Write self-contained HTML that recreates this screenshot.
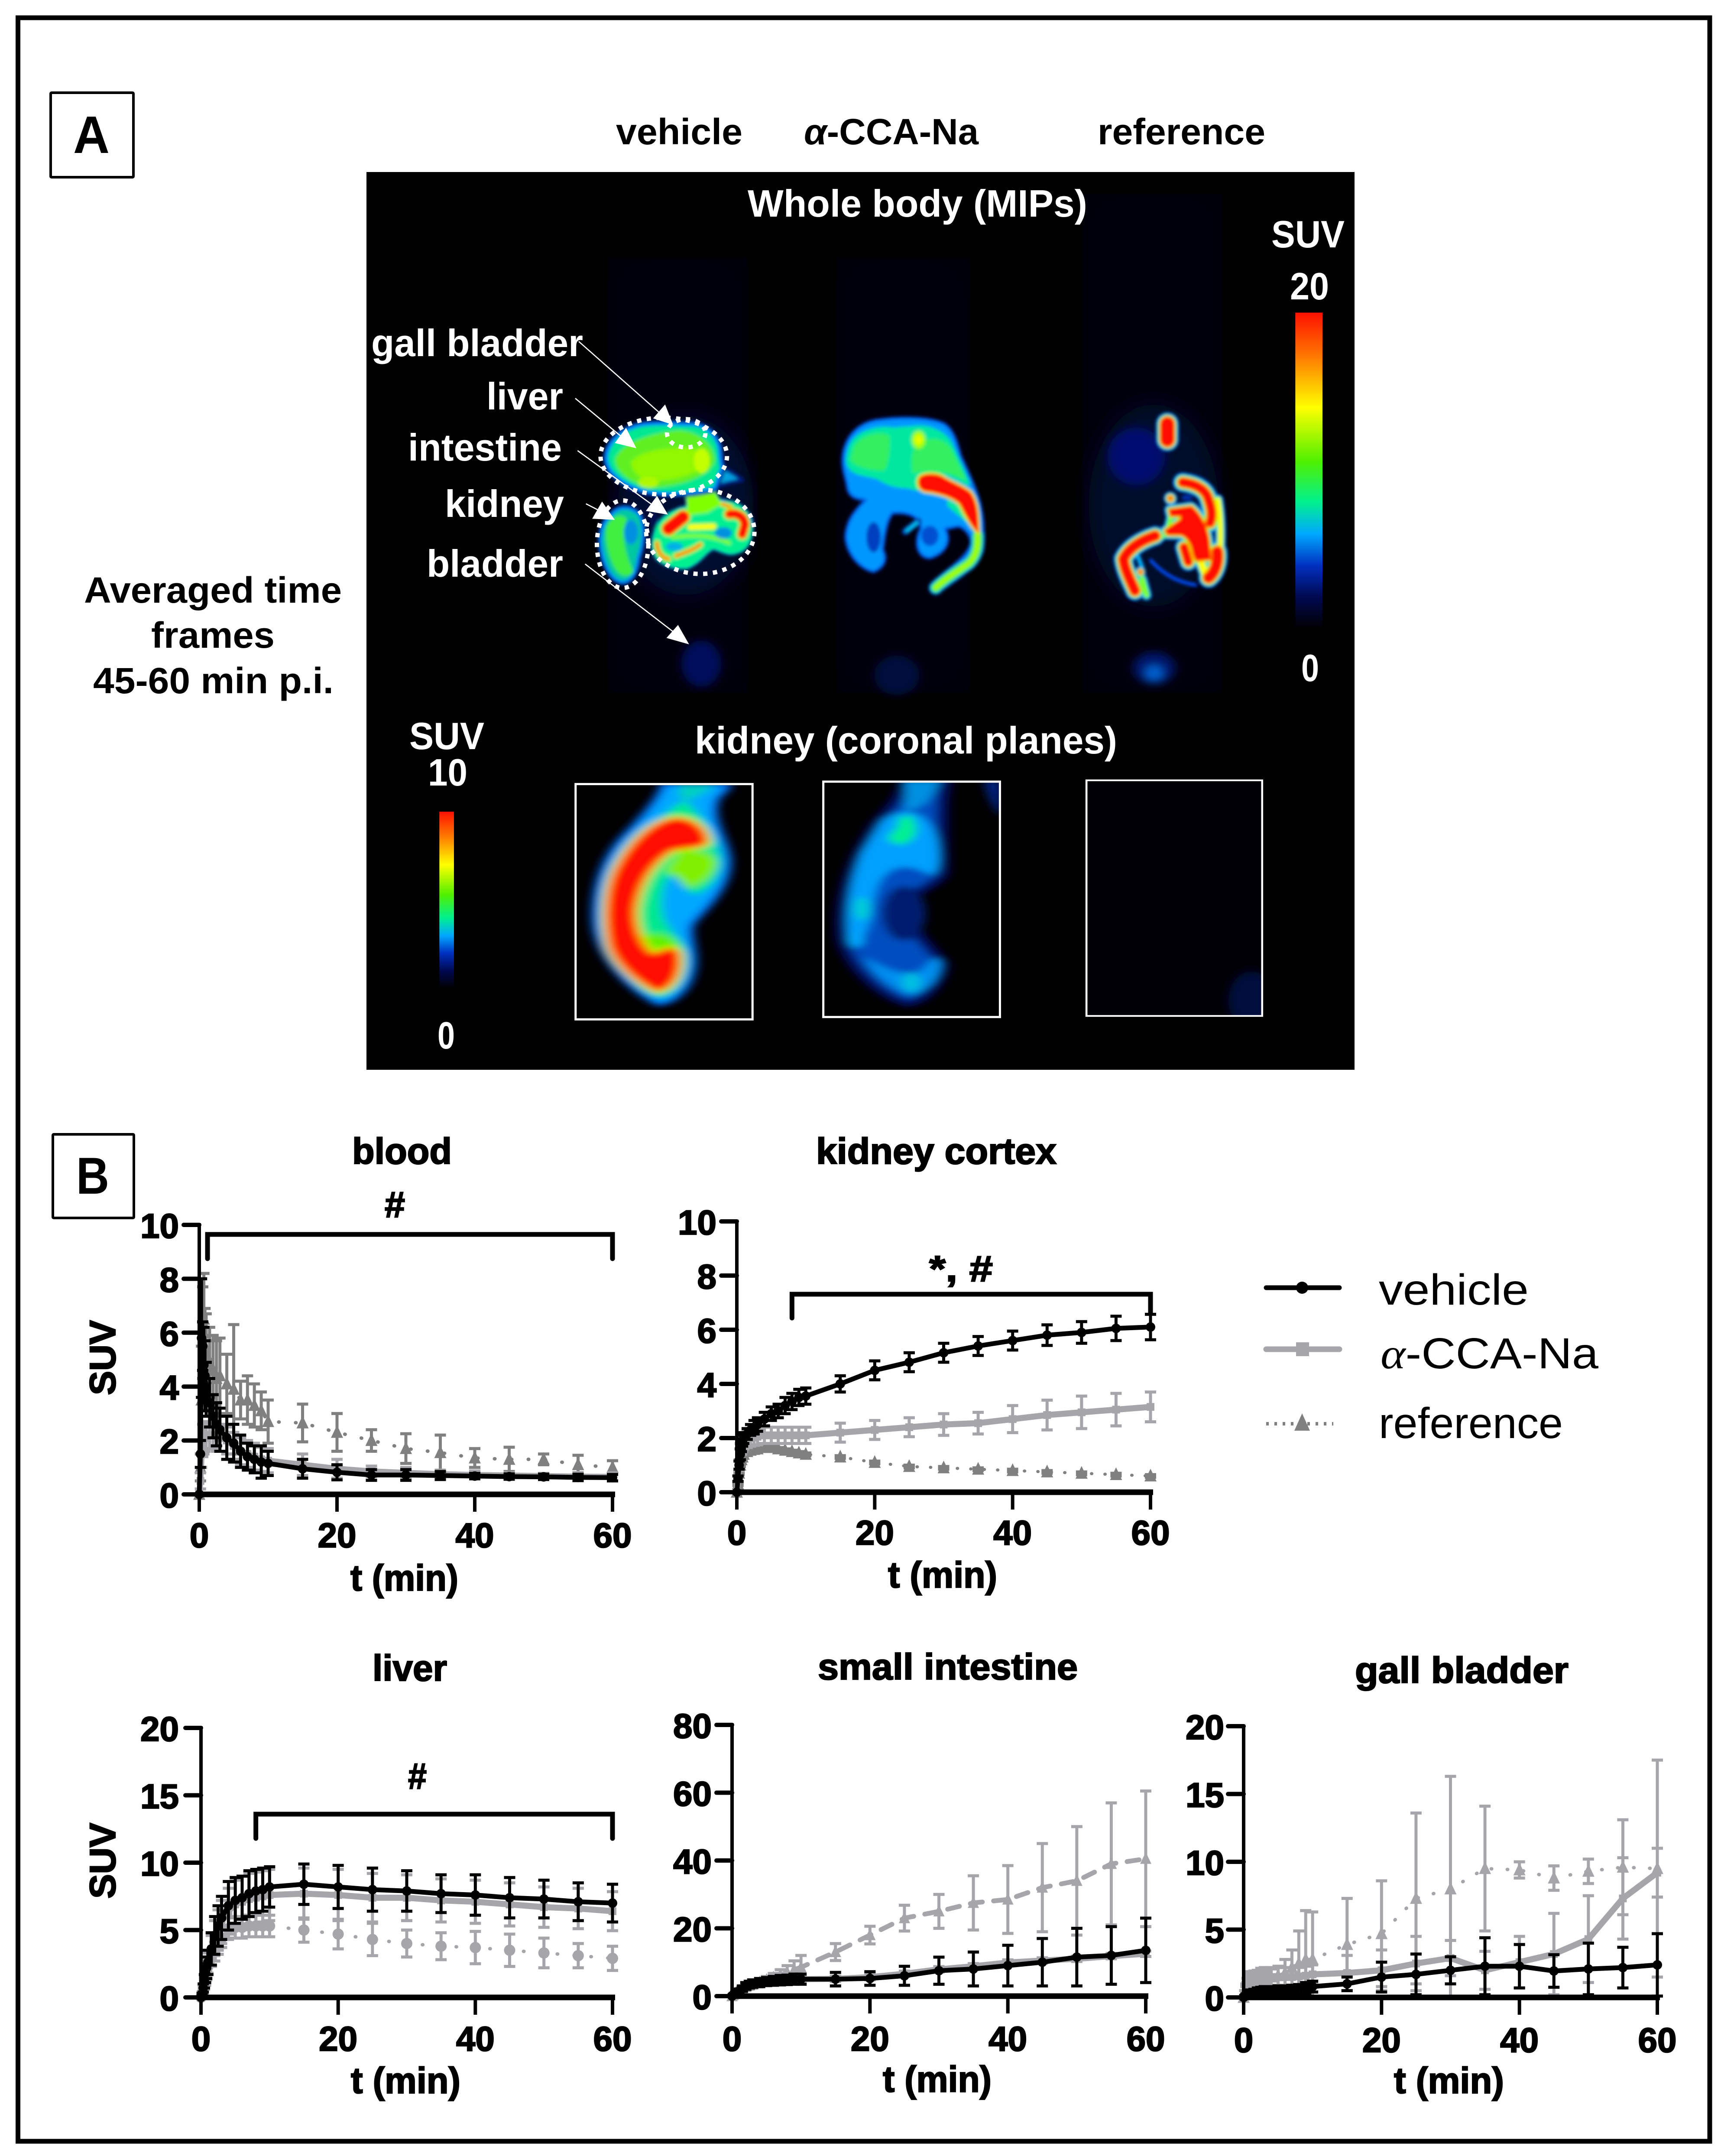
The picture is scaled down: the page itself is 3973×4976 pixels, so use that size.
<!DOCTYPE html>
<html lang="en">
<head>
<meta charset="utf-8">
<title>SUV imaging and time-activity curves</title>
<style>
html,body{margin:0;padding:0;background:#fff}
svg{display:block}
text{font-family:"Liberation Sans",sans-serif}
.b{font-weight:bold}
.heavy{stroke:#000;stroke-width:2.5px}
</style>
</head>
<body>
<svg id="fig" xmlns="http://www.w3.org/2000/svg" width="3973" height="4976" viewBox="0 0 3973 4976">
<defs>
<filter id="blur7" x="-30%" y="-30%" width="160%" height="160%"><feGaussianBlur stdDeviation="7"/></filter>
<filter id="blur9" x="-20%" y="-20%" width="140%" height="140%"><feGaussianBlur stdDeviation="12"/></filter>
<filter id="blur14" x="-20%" y="-20%" width="140%" height="140%"><feGaussianBlur stdDeviation="18"/></filter>
<filter id="blur30" x="-40%" y="-40%" width="180%" height="180%"><feGaussianBlur stdDeviation="30"/></filter>
<filter id="blur60" x="-50%" y="-50%" width="200%" height="200%"><feGaussianBlur stdDeviation="70"/></filter>
<linearGradient id="jet" x1="0" y1="0" x2="0" y2="1">
<stop offset="0" stop-color="#ff1000"/><stop offset=".14" stop-color="#ff7a00"/><stop offset=".3" stop-color="#ffff00"/>
<stop offset=".47" stop-color="#50f000"/><stop offset=".6" stop-color="#00f090"/><stop offset=".7" stop-color="#00a8ff"/>
<stop offset=".8" stop-color="#0030c0"/><stop offset=".9" stop-color="#000850"/><stop offset="1" stop-color="#000000"/>
</linearGradient>
<clipPath id="glowClip"><rect x="30" y="13" width="1490" height="1547"/></clipPath>
<clipPath id="box1Clip"><rect x="46" y="60" width="604" height="1455"/></clipPath>
<clipPath id="box2Clip"><rect x="900" y="45" width="603" height="1455"/></clipPath>
<clipPath id="box3Clip"><rect x="1116" y="1061" width="265" height="406"/></clipPath>
<clipPath id="vehicleClip"><rect x="-200" y="-500" width="1550" height="2500"/></clipPath>
</defs>

<rect width="3973" height="4976" fill="#fff"/>
<rect x="41.5" y="41" width="3905.5" height="4901" fill="none" stroke="#000" stroke-width="11"/>

<rect x="117" y="214" width="191" height="195" fill="#fff" stroke="#000" stroke-width="6" rx="2"/>
<text class="b" x="169" y="353" font-size="122" textLength="84" lengthAdjust="spacingAndGlyphs">A</text>
<rect x="122" y="2618" width="187" height="193" fill="#fff" stroke="#000" stroke-width="6" rx="2"/>
<text class="b" x="176" y="2755" font-size="120" textLength="76" lengthAdjust="spacingAndGlyphs">B</text>

<text class="b" x="1422" y="333" font-size="84" textLength="292" lengthAdjust="spacingAndGlyphs">vehicle</text>
<text class="b" x="1856" y="333" font-size="84" textLength="403" lengthAdjust="spacingAndGlyphs"><tspan font-style="italic">α</tspan>-CCA-Na</text>
<text class="b" x="2534" y="333" font-size="84" textLength="387" lengthAdjust="spacingAndGlyphs">reference</text>

<text class="b" x="194" y="1391" font-size="84" textLength="595" lengthAdjust="spacingAndGlyphs">Averaged time</text>
<text class="b" x="349" y="1495" font-size="84" textLength="285" lengthAdjust="spacingAndGlyphs">frames</text>
<text class="b" x="215" y="1600" font-size="84" textLength="555" lengthAdjust="spacingAndGlyphs">45-60 min p.i.</text>

<rect x="846" y="397" width="2281" height="2072" fill="#000"/>

<g transform="translate(800 380) scale(1.5306 1.3393)" clip-path="url(#glowClip)">
  <g filter="url(#blur30)">
    <rect x="395" y="160" width="210" height="750" fill="#00020e"/>
    <rect x="740" y="160" width="200" height="750" fill="#00020e"/>
    <rect x="1110" y="50" width="210" height="860" fill="#00020f"/>
  </g>
  <g filter="url(#blur7)">
    <ellipse cx="535" cy="860" rx="30" ry="40" fill="#00105c"/>
    <ellipse cx="830" cy="880" rx="34" ry="34" fill="#000a3e"/>
    <ellipse cx="1218" cy="868" rx="32" ry="28" fill="#00146c"/>
    <ellipse cx="1218" cy="876" rx="13" ry="13" fill="#0060d0"/>
  </g>
</g>

<g transform="translate(1300 900) scale(.33333)" clip-path="url(#vehicleClip)">
  <ellipse cx="850" cy="800" rx="470" ry="620" fill="#000830" filter="url(#blur60)"/>
  <g id="petVehicle" filter="url(#blur9)"></g>
</g>
<g id="petAlpha" transform="translate(1880 920) scale(.33333)" filter="url(#blur9)"></g>
<g transform="translate(2450 900) scale(.33333)">
  <ellipse cx="640" cy="800" rx="450" ry="700" fill="#00072c" filter="url(#blur60)"/>
  <ellipse cx="520" cy="460" rx="200" ry="200" fill="#001070" filter="url(#blur30)"/>
  <g id="petRef" filter="url(#blur9)"></g>
</g>

<g transform="translate(1300 1790) scale(.6696 .37)">
  <g clip-path="url(#box1Clip)"><g id="petLower1" filter="url(#blur14)"></g></g>
  <g clip-path="url(#box2Clip)"><g id="petLower2" filter="url(#blur14)"></g></g>
  <rect x="43" y="53" width="610" height="1468" fill="none" stroke="#fff" stroke-width="5" vector-effect="non-scaling-stroke"/>
  <rect x="897" y="38" width="609" height="1468" fill="none" stroke="#fff" stroke-width="5" vector-effect="non-scaling-stroke"/>
</g>

<g id="pet" transform="translate(800 380) scale(1.5306 1.3393)">
  <g clip-path="url(#box3Clip)">
    <rect x="1116" y="1061" width="265" height="406" fill="#000006"/>
    <ellipse cx="1365" cy="1440" rx="35" ry="50" fill="#000a3c" filter="url(#blur7)"/>
  </g>
  <rect x="1116" y="1061" width="265" height="406" fill="none" stroke="#fff" stroke-width="3"/>
  <rect x="1431" y="255" width="41" height="545" fill="url(#jet)"/>
  <rect x="140" y="1115" width="22" height="305" fill="url(#jet)"/>
</g>

<g transform="translate(1300 900) scale(.33333)">
  <g fill="none" stroke="#fff" stroke-width="30" stroke-dasharray="30 38">
    <ellipse cx="697" cy="458" rx="438" ry="266"/>
    <ellipse cx="852" cy="300" rx="133" ry="98"/>
    <ellipse cx="950" cy="982" rx="375" ry="292"/>
    <ellipse cx="412" cy="1068" rx="178" ry="303"/>
  </g>
  <g stroke="#fff" stroke-width="8" fill="#fff">
    <line x1="108" y1="-336" x2="670" y2="160"/><polygon points="705,108 630,195 755,235"/>
    <line x1="84" y1="58" x2="400" y2="320"/><polygon points="435,270 365,365 500,398"/>
    <line x1="100" y1="420" x2="610" y2="790"/><polygon points="650,740 580,835 718,858"/>
    <line x1="158" y1="788" x2="240" y2="830"/><polygon points="270,780 208,888 350,895"/>
    <line x1="152" y1="1205" x2="770" y2="1680"/><polygon points="864,1755 723,1715 795,1634"/>
  </g>
</g>

<g fill="#fff" class="b">
  <text class="b" x="1726" y="500" font-size="88" textLength="784" lengthAdjust="spacingAndGlyphs">Whole body (MIPs)</text>
  <text class="b" x="2935" y="571" font-size="88" textLength="169" lengthAdjust="spacingAndGlyphs">SUV</text>
  <text class="b" x="2978" y="691" font-size="88" textLength="90" lengthAdjust="spacingAndGlyphs">20</text>
  <text class="b" x="3004" y="1572" font-size="88" textLength="41" lengthAdjust="spacingAndGlyphs">0</text>
  <text class="b" x="857" y="822" font-size="88" textLength="489" lengthAdjust="spacingAndGlyphs">gall bladder</text>
  <text class="b" x="1123" y="945" font-size="88" textLength="177" lengthAdjust="spacingAndGlyphs">liver</text>
  <text class="b" x="942" y="1063" font-size="88" textLength="355" lengthAdjust="spacingAndGlyphs">intestine</text>
  <text class="b" x="1027" y="1193" font-size="88" textLength="275" lengthAdjust="spacingAndGlyphs">kidney</text>
  <text class="b" x="985" y="1331" font-size="88" textLength="315" lengthAdjust="spacingAndGlyphs">bladder</text>
  <text class="b" x="945" y="1729" font-size="88" textLength="173" lengthAdjust="spacingAndGlyphs">SUV</text>
  <text class="b" x="988" y="1813" font-size="88" textLength="91" lengthAdjust="spacingAndGlyphs">10</text>
  <text class="b" x="1010" y="2420" font-size="88" textLength="40" lengthAdjust="spacingAndGlyphs">0</text>
  <text class="b" x="1604" y="1739" font-size="88" textLength="975" lengthAdjust="spacingAndGlyphs">kidney (coronal planes)</text>
</g>

<g id="charts"></g>

<g>
  <line x1="2923" y1="2972" x2="3092" y2="2972" stroke="#000" stroke-width="11" stroke-linecap="round"/>
  <circle cx="3006" cy="2972" r="14" fill="#000"/>
  <text x="3183" y="3011" font-size="100" textLength="346" lengthAdjust="spacingAndGlyphs">vehicle</text>
  <line x1="2923" y1="3114" x2="3092" y2="3114" stroke="#a6a6aa" stroke-width="13" stroke-linecap="round"/>
  <rect x="2992" y="3098" width="30" height="32" fill="#a6a6aa"/>
  <text x="3187" y="3158" font-size="100" textLength="503" lengthAdjust="spacingAndGlyphs"><tspan font-style="italic" font-family="Liberation Serif">α</tspan>-CCA-Na</text>
  <line x1="2923" y1="3286" x2="3078" y2="3286" stroke="#808080" stroke-width="8" stroke-dasharray="6 13"/>
  <polygon points="3006,3262 3024,3302 2988,3302" fill="#808080"/>
  <text x="3183" y="3319" font-size="100" textLength="425" lengthAdjust="spacingAndGlyphs">reference</text>
</g>

<script>
// ---------- chart data ----------
const timePoints = [0,.17,.33,.5,.67,.83,1,1.5,2,2.5,3,4,5,6,7,8,9,10,15,20,25,30,35,40,45,50,55,60];
const xTickLabels = [0,20,40,60];
const yTicksTen = [0,2,4,6,8,10];
const yTicksTwenty = [0,5,10,15,20];
const yTicksEighty = [0,20,40,60,80];

const bloodVehicle = [0,1.5,5.8,5.5,4.8,4.4,3.9,3.4,2.9,2.6,2.4,2.1,1.9,1.6,1.4,1.3,1.2,1.15,.95,.82,.72,.72,.7,.68,.66,.65,.63,.62];
const bloodVehicleErr = [0,.5,2.2,.9,1.4,1.3,1,.9,.8,.8,.8,.8,.7,.6,.5,.5,.6,.45,.35,.28,.2,.2,.15,.1,.1,.1,.12,.12];
const bloodAlpha = [0,.5,1.5,2,2.1,2.1,2.2,2.2,2.2,2.1,2.1,2,1.8,1.6,1.5,1.4,1.3,1.25,1.1,.95,.85,.8,.75,.72,.7,.68,.66,.65];
const bloodAlphaErr = [0,.3,.5,.6,.6,.5,.5,.5,.5,.5,.5,.5,.5,.5,.5,.5,.45,.45,.4,.35,.2,.2,.15,.15,.1,.1,.15,.15];
const bloodRef = [0,1,3.5,6,6.5,5.5,5.2,4.9,4.6,4.3,4.4,4.1,3.9,3.5,3.5,3.3,3.1,2.7,2.65,2.3,2,1.7,1.55,1.35,1.3,1.3,1.1,1];
const bloodRefErr = [0,.5,2,1.7,1.7,1.4,1.5,1.3,1.3,1.4,1.4,1.1,2.4,.7,.9,.8,.7,.8,.7,.7,.4,.55,.65,.35,.45,.2,.35,.25];

const kidneyVehicle = [0,.5,1,1.4,1.7,1.9,2,2.15,2.3,2.4,2.5,2.7,2.9,3,3.2,3.35,3.5,3.55,4,4.5,4.8,5.15,5.4,5.6,5.8,5.9,6.05,6.1];
const kidneyVehicleErr = [0,.1,.15,.2,.2,.2,.2,.2,.2,.25,.25,.25,.25,.25,.3,.3,.3,.3,.3,.35,.35,.35,.35,.35,.38,.4,.45,.47];
const kidneyAlpha = [0,.5,1,1.5,1.7,1.8,1.9,1.95,2,2.03,2.05,2.1,2.1,2.1,2.1,2.1,2.1,2.1,2.2,2.3,2.4,2.5,2.55,2.7,2.85,2.95,3.05,3.15];
const kidneyAlphaErr = [0,.1,.2,.3,.3,.3,.3,.3,.3,.3,.3,.3,.3,.3,.3,.3,.3,.3,.35,.35,.35,.4,.4,.5,.55,.6,.6,.55];
const kidneyRef = [0,.3,.7,1,1.2,1.3,1.4,1.5,1.55,1.58,1.6,1.65,1.65,1.6,1.55,1.5,1.45,1.4,1.3,1.1,.95,.9,.85,.8,.75,.7,.65,.6];
const kidneyRefErr = [0,.05,.05,.05,.05,.05,.05,.05,.05,.05,.05,.05,.05,.05,.05,.05,.05,.05,.05,.05,.05,.05,.05,.05,.05,.05,.05,.05];

const liverVehicle = [0,.2,.7,1.2,1.8,2.2,2.6,3.6,4.6,5.3,5.9,6.8,7.2,7.4,7.7,7.9,8,8.2,8.4,8.2,8,7.9,7.7,7.6,7.4,7.3,7.1,7];
const liverVehicleErr = [0,.1,.3,.5,.7,.8,.9,1.2,1.4,1.5,1.6,1.8,1.7,1.6,1.7,1.6,1.6,1.5,1.5,1.6,1.6,1.5,1.4,1.5,1.5,1.4,1.4,1.4];
const liverAlpha = [0,.2,.6,1,1.5,2,2.5,3.5,4.4,5,5.6,6.4,6.9,7.1,7.3,7.4,7.5,7.6,7.7,7.6,7.4,7.4,7.2,7.1,6.9,6.7,6.6,6.4];
const liverAlphaErr = [0,.1,.3,.4,.6,.7,.8,1.1,1.3,1.5,1.6,1.7,1.8,1.9,1.9,1.9,1.9,1.9,1.9,1.9,1.8,1.7,1.6,1.6,1.6,1.5,1.5,1.45];
const liverRef = [0,.3,.8,1.2,1.6,2,2.3,2.9,3.4,3.9,4.4,5.1,5.2,5.2,5.3,5.3,5.3,5.3,5,4.7,4.3,4,3.8,3.7,3.5,3.3,3.1,2.9];
const liverRefErr = [0,.1,.2,.3,.4,.4,.5,.6,.7,.7,.7,.8,.8,.8,.8,.8,.8,.8,.9,1.1,1.2,1,1,1.2,1.2,1.1,.9,.9];

const intestineVehicle = [0,.3,.5,.7,1,1.2,1.5,2.2,3,3.4,3.7,4,4.3,4.5,4.7,4.8,5,5,5,5.2,6,7.5,8,9,10,11.5,12,13.5];
const intestineVehicleErr = [0,.2,.3,.4,.5,.5,.6,.8,1,1,1.1,1.2,1.2,1.3,1.4,1.4,1.5,1.5,2,2,2.8,4,5,6,7,8.5,8.5,9.5];
const intestineAlpha = [0,.2,.4,.6,.8,1,1.2,1.8,2.4,2.7,3,3.4,3.8,4.2,4.5,4.7,4.8,5,5.1,5.6,6.6,7.9,8.8,9.9,10.5,11,11.8,12.5];
const intestineAlphaErr = [0,.1,.2,.2,.3,.3,.3,.4,.5,.5,.5,.6,.6,.6,.6,.7,.7,.7,.8,.8,.8,.8,.8,.8,.8,.8,.8,.8];
const intestineRef = [0,.3,.6,.9,1.2,1.4,1.7,2.2,2.7,3.1,3.4,4.1,4.8,5.5,6.2,7,7.8,8.5,13,18,23,25,27.5,28.5,32,34,39,40.5];
const intestineRefErr = [0,.1,.2,.3,.3,.4,.4,.5,.6,.7,.7,.9,1,1.2,1.6,2,2.6,3.5,2.5,2.6,3.8,5,8,10,13,16,18,20];

const gallVehicle = [0,.1,.15,.2,.25,.3,.35,.4,.45,.5,.5,.5,.55,.55,.55,.6,.7,.8,1,1.5,1.7,2,2.3,2.3,1.95,2.1,2.2,2.4];
const gallVehicleErr = [0,.05,.1,.1,.15,.15,.2,.2,.25,.25,.3,.3,.3,.3,.35,.35,.4,.4,.5,1.1,1.5,1,2.1,1.6,1.2,1.9,1.5,2.3];
const gallAlpha = [0,.3,.6,.9,1.1,1.2,1.3,1.35,1.4,1.45,1.5,1.5,1.5,1.5,1.5,1.55,1.6,1.7,1.8,2,2.5,2.9,2,2.6,3.2,4.3,7.3,9.2];
const gallAlphaErr = [0,.2,.4,.5,.5,.5,.6,.6,.6,.7,.7,.7,.7,.7,.7,.7,.7,.7,1.3,1.5,2,1.3,1.4,1.9,3,3.2,3,1.8];
const gallRef = [0,.3,.5,.7,.8,.9,1,1.1,1.2,1.3,1.4,1.5,1.6,1.8,2.2,2.5,2.8,2.8,3.9,4.7,7.3,8,9.5,9.4,8.8,9.3,9.6,9.5];
const gallRefErr = [0,.2,.3,.4,.4,.4,.4,.4,.4,.5,.5,.6,.7,1,1.3,2.4,3.6,3.5,3.4,3.9,6.3,8.3,4.6,.6,.9,.9,3.5,8];

// ---------- drawing helpers ----------
const NS = 'http://www.w3.org/2000/svg';
function mk(parent, tag, attrs, txt){
  const el = document.createElementNS(NS, tag);
  for (const k in attrs) el.setAttribute(k, attrs[k]);
  if (txt !== undefined) el.textContent = txt;
  parent.appendChild(el);
  return el;
}

function drawSeries(g, s, sx, sy){
  const group = mk(g, 'g', {});
  
  
  const path = timePoints.map((t, i) => (i ? 'L' : 'M') + sx(t) + ' ' + sy(s.mean[i])).join(' ');
  const errW = s.errW || 7;
  timePoints.forEach((t, i) => {
    if (!s.err[i]) return;
    const up = sy(s.mean[i] + s.err[i]);
    const dn = sy(Math.max(0, s.mean[i] - s.err[i]));
    const eb = mk(group, 'path', {d:'M' + sx(t) + ' ' + up + 'V' + dn + 'M' + (sx(t) - 13) + ' ' + up + 'h26M' + (sx(t) - 13) + ' ' + dn + 'h26', fill:'none', stroke:s.color, 'stroke-width':errW});
    
    
  });
  const attrs = {d:path, fill:'none', stroke:s.color, 'stroke-width':s.width, 'stroke-linejoin':'round'};
  if (s.dash) { attrs['stroke-dasharray'] = s.dash; attrs['stroke-linecap'] = 'round'; }
  const ln = mk(group, 'path', attrs);
  
  
  timePoints.forEach((t, i) => {
    const x = sx(t), y = sy(s.mean[i]);
    let m;
    if (s.marker === 'circle') m = mk(group, 'circle', {cx:x, cy:y, r:s.size, fill:s.color});
    else if (s.marker === 'square') m = mk(group, 'rect', {x:x - s.size, y:y - s.size, width:2 * s.size, height:2 * s.size, fill:s.color});
    else m = mk(group, 'polygon', {points:x + ',' + (y - s.size * 1.2) + ' ' + (x + s.size) + ',' + (y + s.size * .9) + ' ' + (x - s.size) + ',' + (y + s.size * .9), fill:s.color});
    
    
  });
}

function drawChart(c){
  const root = document.getElementById('charts');
  const g = mk(root, 'g', {});
  
  
  const sx = t => c.x0 + t / 60 * (c.x60 - c.x0);
  const sy = v => c.y0 - v / c.yMax * (c.y0 - c.yTop);
  c.series.forEach(s => drawSeries(g, s, sx, sy));

  const yAxis = mk(g, 'line', {x1:c.x0, x2:c.x0, y1:c.yTop - 4, y2:c.y0 + 40, stroke:'#000', 'stroke-width':8});
  
  
  const xAxis = mk(g, 'line', {x1:c.x0, x2:c.x60 + 6, y1:c.y0, y2:c.y0, stroke:'#000', 'stroke-width':13});
  
  

  c.yTicks.forEach(v => {
    const tick = mk(g, 'line', {x1:c.x0 - 36, x2:c.x0, y1:sy(v), y2:sy(v), stroke:'#000', 'stroke-width':10, 'stroke-linecap':'round'});
    
    
    const lab = mk(g, 'text', {x:c.yLabelRight, y:sy(v) + 30, 'font-size':80, 'font-weight':'bold', 'text-anchor':'end', class:'heavy'}, String(v));
    
    
  });
  xTickLabels.forEach(v => {
    const tick = mk(g, 'line', {x1:sx(v), x2:sx(v), y1:c.y0, y2:c.y0 + 40, stroke:'#000', 'stroke-width':8});
    
    
    const lab = mk(g, 'text', {x:sx(v), y:c.xLabelY, 'font-size':80, 'font-weight':'bold', 'text-anchor':'middle', class:'heavy'}, String(v));
    
    
  });

  const title = mk(g, 'text', {x:c.title[1], y:c.title[3], 'font-size':84, 'font-weight':'bold', class:'heavy', textLength:c.title[2] - c.title[1], lengthAdjust:'spacingAndGlyphs'}, c.title[0]);
  
  
  const xt = mk(g, 'text', {x:c.xTitle[0], y:c.xTitle[2], 'font-size':84, 'font-weight':'bold', class:'heavy', textLength:c.xTitle[1] - c.xTitle[0], lengthAdjust:'spacingAndGlyphs'}, 't (min)');
  
  
  if (c.suv) {
    const yt = mk(g, 'text', {transform:'translate(' + c.suv[0] + ' ' + c.suv[2] + ') rotate(-90)', 'font-size':84, 'font-weight':'bold', class:'heavy', textLength:c.suv[2] - c.suv[1], lengthAdjust:'spacingAndGlyphs'}, 'SUV');
    
    
  }
  if (c.bracket) {
    const b = c.bracket;
    const br = mk(g, 'path', {d:'M' + sx(b.from) + ' ' + b.drop1 + 'V' + b.y + 'H' + sx(b.to) + 'V' + b.drop2, fill:'none', stroke:'#000', 'stroke-width':11, 'stroke-linecap':'round'});
    
    
    const st = mk(g, 'text', {x:b.tx[0], y:b.ty, 'font-size':84, 'font-weight':'bold', class:'heavy', textLength:b.tx[1] - b.tx[0], lengthAdjust:'spacingAndGlyphs'}, b.text);
    
    
  }
}

const BLACK = '#000', GREY = '#a6a6aa', DARK = '#808080';
function trio(name, veh, vehE, alp, alpE, ref, refE, refStyle){
  return [
    Object.assign({name:name + '-reference', mean:ref, err:refE}, refStyle),
    {name:name + '-alpha-cca-na', mean:alp, err:alpE, color:GREY, marker:'square', size:9, width:14},
    {name:name + '-vehicle', mean:veh, err:vehE, color:BLACK, marker:'circle', size:11, width:11}
  ];
}

drawChart({name:'blood', x0:460, x60:1414, y0:3449, yTop:2827, yMax:10, yTicks:yTicksTen, yLabelRight:413, xLabelY:3571,
  title:['blood', 813, 1043, 2686], xTitle:[809, 1058, 3671], suv:[266, 3047, 3220],
  bracket:{from:1.2, to:60, y:2849, drop1:2905, drop2:2905, text:'#', tx:[888, 935], ty:2809},
  series:trio('blood', bloodVehicle, bloodVehicleErr, bloodAlpha, bloodAlphaErr, bloodRef, bloodRefErr, {color:DARK, marker:'triangle', size:14, width:8, dash:'1 38'})});

drawChart({name:'kidney-cortex', x0:1701, x60:2656, y0:3444, yTop:2819, yMax:10, yTicks:yTicksTen, yLabelRight:1654, xLabelY:3565,
  title:['kidney cortex', 1884, 2439, 2686], xTitle:[2050, 2302, 3664],
  bracket:{from:8, to:60, y:2987, drop1:3042, drop2:3033, text:'*, #', tx:[2145, 2292], ty:2957},
  series:trio('kidney', kidneyVehicle, kidneyVehicleErr, kidneyAlpha, kidneyAlphaErr, kidneyRef, kidneyRefErr, {color:DARK, marker:'triangle', size:14, width:7, dash:'1 30'})});

drawChart({name:'liver', x0:464, x60:1414, y0:4610, yTop:3988, yMax:20, yTicks:yTicksTwenty, yLabelRight:413, xLabelY:4733,
  title:['liver', 860, 1032, 3879], xTitle:[810, 1063, 4831], suv:[266, 4207, 4382],
  bracket:{from:8, to:60, y:4187, drop1:4243, drop2:4243, text:'#', tx:[942, 985], ty:4128},
  series:trio('liver', liverVehicle, liverVehicleErr, liverAlpha, liverAlphaErr, liverRef, liverRefErr, {color:GREY, marker:'circle', size:13, width:8, dash:'1 38'})});

drawChart({name:'small-intestine', x0:1690, x60:2645, y0:4607, yTop:3981, yMax:80, yTicks:yTicksEighty, yLabelRight:1643, xLabelY:4733,
  title:['small intestine', 1888, 2488, 3876], xTitle:[2038, 2289, 4828],
  series:trio('intestine', intestineVehicle, intestineVehicleErr, intestineAlpha, intestineAlphaErr, intestineRef, intestineRefErr, {color:GREY, marker:'triangle', size:13, width:11, dash:'28 26'})});

drawChart({name:'gall-bladder', x0:2871, x60:3826, y0:4610, yTop:3984, yMax:20, yTicks:yTicksTwenty, yLabelRight:2826, xLabelY:4736,
  title:['gall bladder', 3128, 3621, 3884], xTitle:[3218, 3472, 4831],
  series:trio('gall', gallVehicle, gallVehicleErr, gallAlpha, gallAlphaErr, gallRef, gallRefErr, {color:GREY, marker:'triangle', size:14, width:8, dash:'1 36'})});

// ---------- PET image shapes (iso-contour bands, blurred) ----------
const HOT = [['#00106a',72],['#0050ff',56],['#00c0ff',44],['#00f090',33],['#80ff00',22],['#ffff00',14],['#ff8000',7],['#ff1000',0]];

// draws every shape's level together so halos merge like real iso-contours
function bandSet(parent, name, shapes){
  HOT.forEach(([col, extra], lvl) => {
    shapes.forEach(s => {
      const top = s.levels || 8;
      if (lvl >= top) return;
      const closed = /Z\s*$/.test(s.d);
      const w = s.core + (extra - HOT[top - 1][1]) * s.k;
      const p = mk(parent, 'path', {d:s.d, fill:closed ? col : 'none', stroke:col, 'stroke-width':w, 'stroke-linecap':'round', 'stroke-linejoin':'round'});
      
      
    });
  });
}
// a single filled contour, optionally outlined
function fillShape(parent, name, d, fill, stroke, width){
  const p = mk(parent, 'path', {d:d, fill:fill, stroke:stroke || 'none', 'stroke-width':width || 0, 'stroke-linejoin':'round', 'stroke-linecap':'round'});
  
  
}
function spot(parent, name, cx, cy, rx, ry, fill){
  const e = mk(parent, 'ellipse', {cx:cx, cy:cy, rx:rx, ry:ry, fill:fill});
  
  
}

// --- vehicle MIP ---
const pv = document.getElementById('petVehicle');
const liverOutline = 'M300 470C300 380 400 260 560 240C700 225 800 240 900 240C1000 250 1060 320 1080 400C1090 480 1090 520 1100 530C1080 600 1060 650 1050 680C900 720 700 730 560 700C430 660 300 580 300 470Z';
const kidneyOutline = 'M330 870C380 800 470 800 530 870C560 950 560 1050 520 1160C510 1260 470 1330 410 1330C330 1320 270 1200 260 1050C260 960 290 900 330 870Z';
const intestineOutline = 'M640 960C700 820 850 800 1050 780C1200 740 1300 820 1310 960C1310 1040 1280 1110 1200 1130C1150 1150 1100 1120 1040 1100C980 1130 960 1190 860 1235C760 1240 680 1210 640 1160C610 1100 610 1040 640 960Z';
fillShape(pv, 'vehicle-liver-tail', 'M1090 530C1150 560 1220 600 1240 625C1170 640 1100 650 1050 680Z', '#00a0e0', '#001a80', 26);
bandSet(pv, 'vehicle-intestine', [
  {d:intestineOutline, core:0, k:.45, levels:4},
  {d:'M850 700L1050 700L1100 790L1000 850L860 870Z', core:0, k:.3, levels:5},
  {d:'M880 950L1040 945', core:36, k:1, levels:6},
  {d:'M730 960L830 880', core:85, k:1},
  {d:'M1150 860C1200 850 1250 870 1260 930L1240 1000', core:55, k:1},
  {d:'M1100 790L1160 810', core:20, k:1, levels:7},
  {d:'M650 1060C650 1110 680 1165 730 1170', core:24, k:1, levels:7},
  {d:'M780 1150C830 1130 900 1110 950 1070', core:24, k:1, levels:7},
  {d:'M760 1020C860 1010 1000 990 1150 1060', core:24, k:1, levels:5}
]);
spot(pv, 'vehicle-intestine-cold-1', 1110, 990, 60, 40, '#0090e0');
spot(pv, 'vehicle-intestine-cold-2', 770, 1085, 60, 30, '#00b0e8');
spot(pv, 'vehicle-intestine-notch', 630, 905, 22, 60, '#000a50');
fillShape(pv, 'vehicle-liver-halo', liverOutline, '#00e890', '#00106a', 56);
fillShape(pv, 'vehicle-liver-edge', liverOutline, '#00e890', '#0080ff', 24);
fillShape(pv, 'vehicle-liver', 'M360 480C400 370 590 300 800 280C950 290 1040 380 1050 480C1050 560 900 660 600 680C470 640 360 570 360 480Z', '#60f020');
fillShape(pv, 'vehicle-liver-core', 'M470 500C530 420 700 400 850 400C960 410 1000 480 980 530C900 600 700 640 580 630C510 600 470 550 470 500Z', '#90f800');
spot(pv, 'vehicle-liver-hot-1', 960, 490, 55, 85, '#c4ff00');
spot(pv, 'vehicle-liver-hot-2', 590, 640, 70, 38, '#b0f800');
fillShape(pv, 'vehicle-kidney-halo', kidneyOutline, '#00c8a0', '#00106a', 50);
fillShape(pv, 'vehicle-kidney-edge', kidneyOutline, '#00c8a0', '#0080ff', 20);
fillShape(pv, 'vehicle-kidney-hot', 'M300 950C340 860 420 850 440 900C400 1000 430 1150 490 1260C440 1310 380 1290 340 1200C300 1100 290 1020 300 950Z', '#40f040');
spot(pv, 'vehicle-kidney-cold', 470, 985, 50, 85, '#0090e0');

// --- alpha-CCA-Na MIP ---
const pa = document.getElementById('petAlpha');
const alphaBody = 'M200 430C200 300 280 170 450 150C600 130 800 130 900 180C970 230 990 330 1010 400C1060 510 1130 650 1150 760C1170 850 1170 950 1160 1050C1130 1130 1000 1250 850 1330C800 1320 810 1290 850 1260C950 1170 1070 1090 1090 1000C1090 960 1060 900 1000 880L900 900C940 960 930 1060 800 1100C720 1100 690 1000 740 900C740 800 620 780 540 790C500 830 480 950 470 1050C500 1100 490 1160 410 1195C300 1170 220 1050 220 950C230 850 270 790 360 700C320 690 240 700 230 600C220 540 200 500 200 430Z';
fillShape(pa, 'alpha-body-halo', alphaBody, '#0098ff', '#00106a', 34);
fillShape(pa, 'alpha-body', alphaBody, '#0098ff', '#0060f0', 14);
spot(pa, 'alpha-kidney-left-cold', 410, 960, 50, 105, '#0040c0');
spot(pa, 'alpha-kidney-right-cold', 800, 950, 60, 70, '#0050d0');
fillShape(pa, 'alpha-ureter-streak-halo', 'M630 920L720 850', 'none', '#0040b0', 50);
fillShape(pa, 'alpha-ureter-streak', 'M640 915L710 860', 'none', '#00c0f0', 24);
fillShape(pa, 'alpha-liver', 'M240 330C280 220 450 180 540 200L680 190C780 170 900 220 950 300C980 370 1020 450 1080 590C1060 620 1000 560 880 520C780 500 700 560 720 640L640 620C560 620 500 600 440 560C350 530 240 540 220 440C220 400 230 360 240 330Z', '#00e8a0');
fillShape(pa, 'alpha-liver-left-hot', 'M270 340C320 240 480 220 520 260C530 340 510 480 480 500C400 500 260 470 250 420Z', '#30f060');
fillShape(pa, 'alpha-liver-right-hot', 'M700 330C800 240 900 280 950 350C980 420 1030 510 1050 570C950 510 800 480 680 520C670 430 670 380 700 330Z', '#30f060');
fillShape(pa, 'alpha-lower-teal', 'M920 700L1040 760L1100 880C1060 860 980 800 920 740Z', '#00e8a0');
spot(pa, 'alpha-gall-halo', 722, 285, 48, 62, '#a0ff00');
spot(pa, 'alpha-gall-core', 722, 285, 26, 34, '#e8ff00');
const alphaTail = 'M1130 950C1135 1050 1110 1100 1070 1140C1000 1190 900 1250 840 1310';
fillShape(pa, 'alpha-tail-blue', alphaTail, 'none', '#0070ff', 96);
fillShape(pa, 'alpha-tail-cyan', alphaTail, 'none', '#00d0c0', 78);
fillShape(pa, 'alpha-tail-green', alphaTail, 'none', '#50f040', 58);
fillShape(pa, 'alpha-tail-lime', alphaTail, 'none', '#a0ff00', 34);
const alphaStreak = 'M735 540C780 515 860 520 900 550C960 585 1030 610 1080 650C1125 710 1135 800 1135 930L1120 910C1080 870 1040 790 1010 730C960 680 860 650 770 640C720 630 710 570 735 540Z';
fillShape(pa, 'alpha-streak-green', alphaStreak, '#80ff00', '#80ff00', 30);
fillShape(pa, 'alpha-streak-yellow', alphaStreak, '#ffff00', '#ffff00', 20);
fillShape(pa, 'alpha-streak', alphaStreak, '#ff1000', '#ff1000', 8);

// --- reference MIP ---
const pr = document.getElementById('petRef');
bandSet(pr, 'reference-uptake', [
  {d:'M735 235L735 345', core:100, k:.9},
  {d:'M840 640C920 650 1000 680 1020 760C1040 820 1050 870 1030 920', core:65, k:1.1},
  {d:'M755 750L757 752', core:46, k:.8, levels:7},
  {d:'M750 830L900 810C960 860 1010 950 1020 1060L1030 1170L940 1180C910 1150 915 1100 900 1070C880 1030 860 1010 830 1000L740 1000L720 975L830 900L840 870L760 870Z', core:12, k:1},
  {d:'M650 1010C560 1040 470 1090 430 1170C440 1250 480 1320 510 1390', core:72, k:1},
  {d:'M560 1310L590 1420', core:36, k:.9, levels:5},
  {d:'M548 1260L548 1262', core:40, k:.6, levels:7},
  {d:'M530 1150L560 1230', core:20, k:.6, levels:3},
  {d:'M620 1180C700 1270 800 1330 930 1350', core:20, k:.4, levels:2},
  {d:'M850 1090L880 1190', core:62, k:1},
  {d:'M1080 1120C1090 1200 1060 1270 1020 1300', core:78, k:1},
  {d:'M1085 760C1105 880 1105 1000 1100 1100', core:30, k:.9, levels:6},
  {d:'M660 1040L760 990', core:14, k:.8, levels:5},
  {d:'M950 1150L1000 1280', core:44, k:.9, levels:6},
  {d:'M760 870L740 960', core:28, k:.9, levels:5}
]);
spot(pr, 'reference-intestine-gap', 870, 745, 40, 18, '#0030b0');

// --- coronal kidney, vehicle ---
const l1 = document.getElementById('petLower1');
const k1Outer = 'M350 60C340 130 290 240 220 370C150 500 110 680 115 900C120 1120 230 1330 330 1420C410 1400 450 1250 445 1130C440 1020 420 950 450 900C500 800 570 680 565 520C555 380 490 250 530 130C550 100 560 80 565 60Z';
fillShape(l1, 'kidney-vehicle-navy', k1Outer, '#0070ff', '#000c60', 46);
fillShape(l1, 'kidney-vehicle-blue', k1Outer, '#00a8ff', '#0070ff', 16);
fillShape(l1, 'kidney-vehicle-duct', 'M400 60L520 60C490 110 440 140 420 170C400 140 400 100 400 60Z', '#00d0c0');
fillShape(l1, 'kidney-vehicle-teal', 'M400 170C340 260 240 400 170 600C130 750 130 1000 180 1170C230 1280 280 1360 330 1380C390 1370 430 1250 425 1130C420 1030 370 980 350 900C330 800 340 680 370 620C410 640 420 720 450 740C510 720 550 600 540 500C530 400 500 300 430 170Z', '#00e890');
fillShape(l1, 'kidney-vehicle-hilum', 'M400 470C480 460 520 480 530 550C520 620 480 680 430 700C400 660 400 620 350 600Z', '#80f000');
fillShape(l1, 'kidney-vehicle-lower', 'M270 1000C320 960 400 1000 415 1090L320 1130Z', '#60f000');
const k1Red = 'M390 270C320 280 240 400 190 570C150 700 145 900 165 1060C185 1180 270 1300 325 1340C380 1320 405 1220 395 1110C380 1060 350 1090 310 1120C270 1080 240 950 245 830C255 700 290 560 370 465C420 440 470 450 490 420C500 350 450 270 390 270Z';
fillShape(l1, 'kidney-vehicle-cortex-lime', k1Red, '#80ff00', '#80ff00', 44);
fillShape(l1, 'kidney-vehicle-cortex-yellow', k1Red, '#ffff00', '#ffff00', 30);
fillShape(l1, 'kidney-vehicle-cortex-orange', k1Red, '#ff9000', '#ff9000', 18);
fillShape(l1, 'kidney-vehicle-cortex', k1Red, '#ff1000', '#ff1000', 6);

// --- coronal kidney, alpha-CCA-Na ---
const l2 = document.getElementById('petLower2');
const k2Outer = 'M1180 30L1320 30C1300 150 1310 350 1310 600C1300 680 1200 720 1180 800C1200 1000 1290 1100 1310 1180C1300 1300 1250 1400 1190 1420C1100 1380 980 1200 960 1000C950 750 1000 500 1080 300C1130 200 1170 120 1180 30Z';
fillShape(l2, 'kidney-alpha-top-right', 'M1450 30L1510 30L1510 260C1480 200 1460 120 1450 30Z', '#002080');
fillShape(l2, 'kidney-alpha-outer', k2Outer, '#004ec0', '#000c60', 44);
spot(l2, 'kidney-alpha-hilum', 1175, 860, 75, 170, '#001a70');
fillShape(l2, 'kidney-alpha-upper', 'M1100 280C1180 180 1260 220 1290 400C1300 500 1300 600 1270 620C1200 560 1150 540 1100 640C1060 760 1070 850 1060 900C1040 1000 1020 1060 990 1060C970 900 980 700 1030 480Z', '#00a0ff');
fillShape(l2, 'kidney-alpha-lower', 'M1040 1130C1100 1200 1180 1260 1230 1220C1260 1180 1270 1120 1300 1150C1310 1250 1260 1340 1200 1370C1120 1320 1060 1220 1040 1130Z', '#0090f0');
fillShape(l2, 'kidney-alpha-duct', 'M1180 30L1300 30C1270 120 1260 200 1180 220Z', '#0090e0');
fillShape(l2, 'kidney-alpha-hot', 'M1160 260L1200 250C1230 330 1220 400 1170 430C1120 420 1100 400 1150 330Z', '#00f090');
spot(l2, 'kidney-alpha-spot-1', 1030, 830, 24, 72, '#00d0d0');
spot(l2, 'kidney-alpha-spot-2', 1010, 1020, 26, 52, '#00a8ff');
spot(l2, 'kidney-alpha-spot-3', 1200, 1290, 32, 58, '#00c0e0');
</script>
</svg>
</body>
</html>
